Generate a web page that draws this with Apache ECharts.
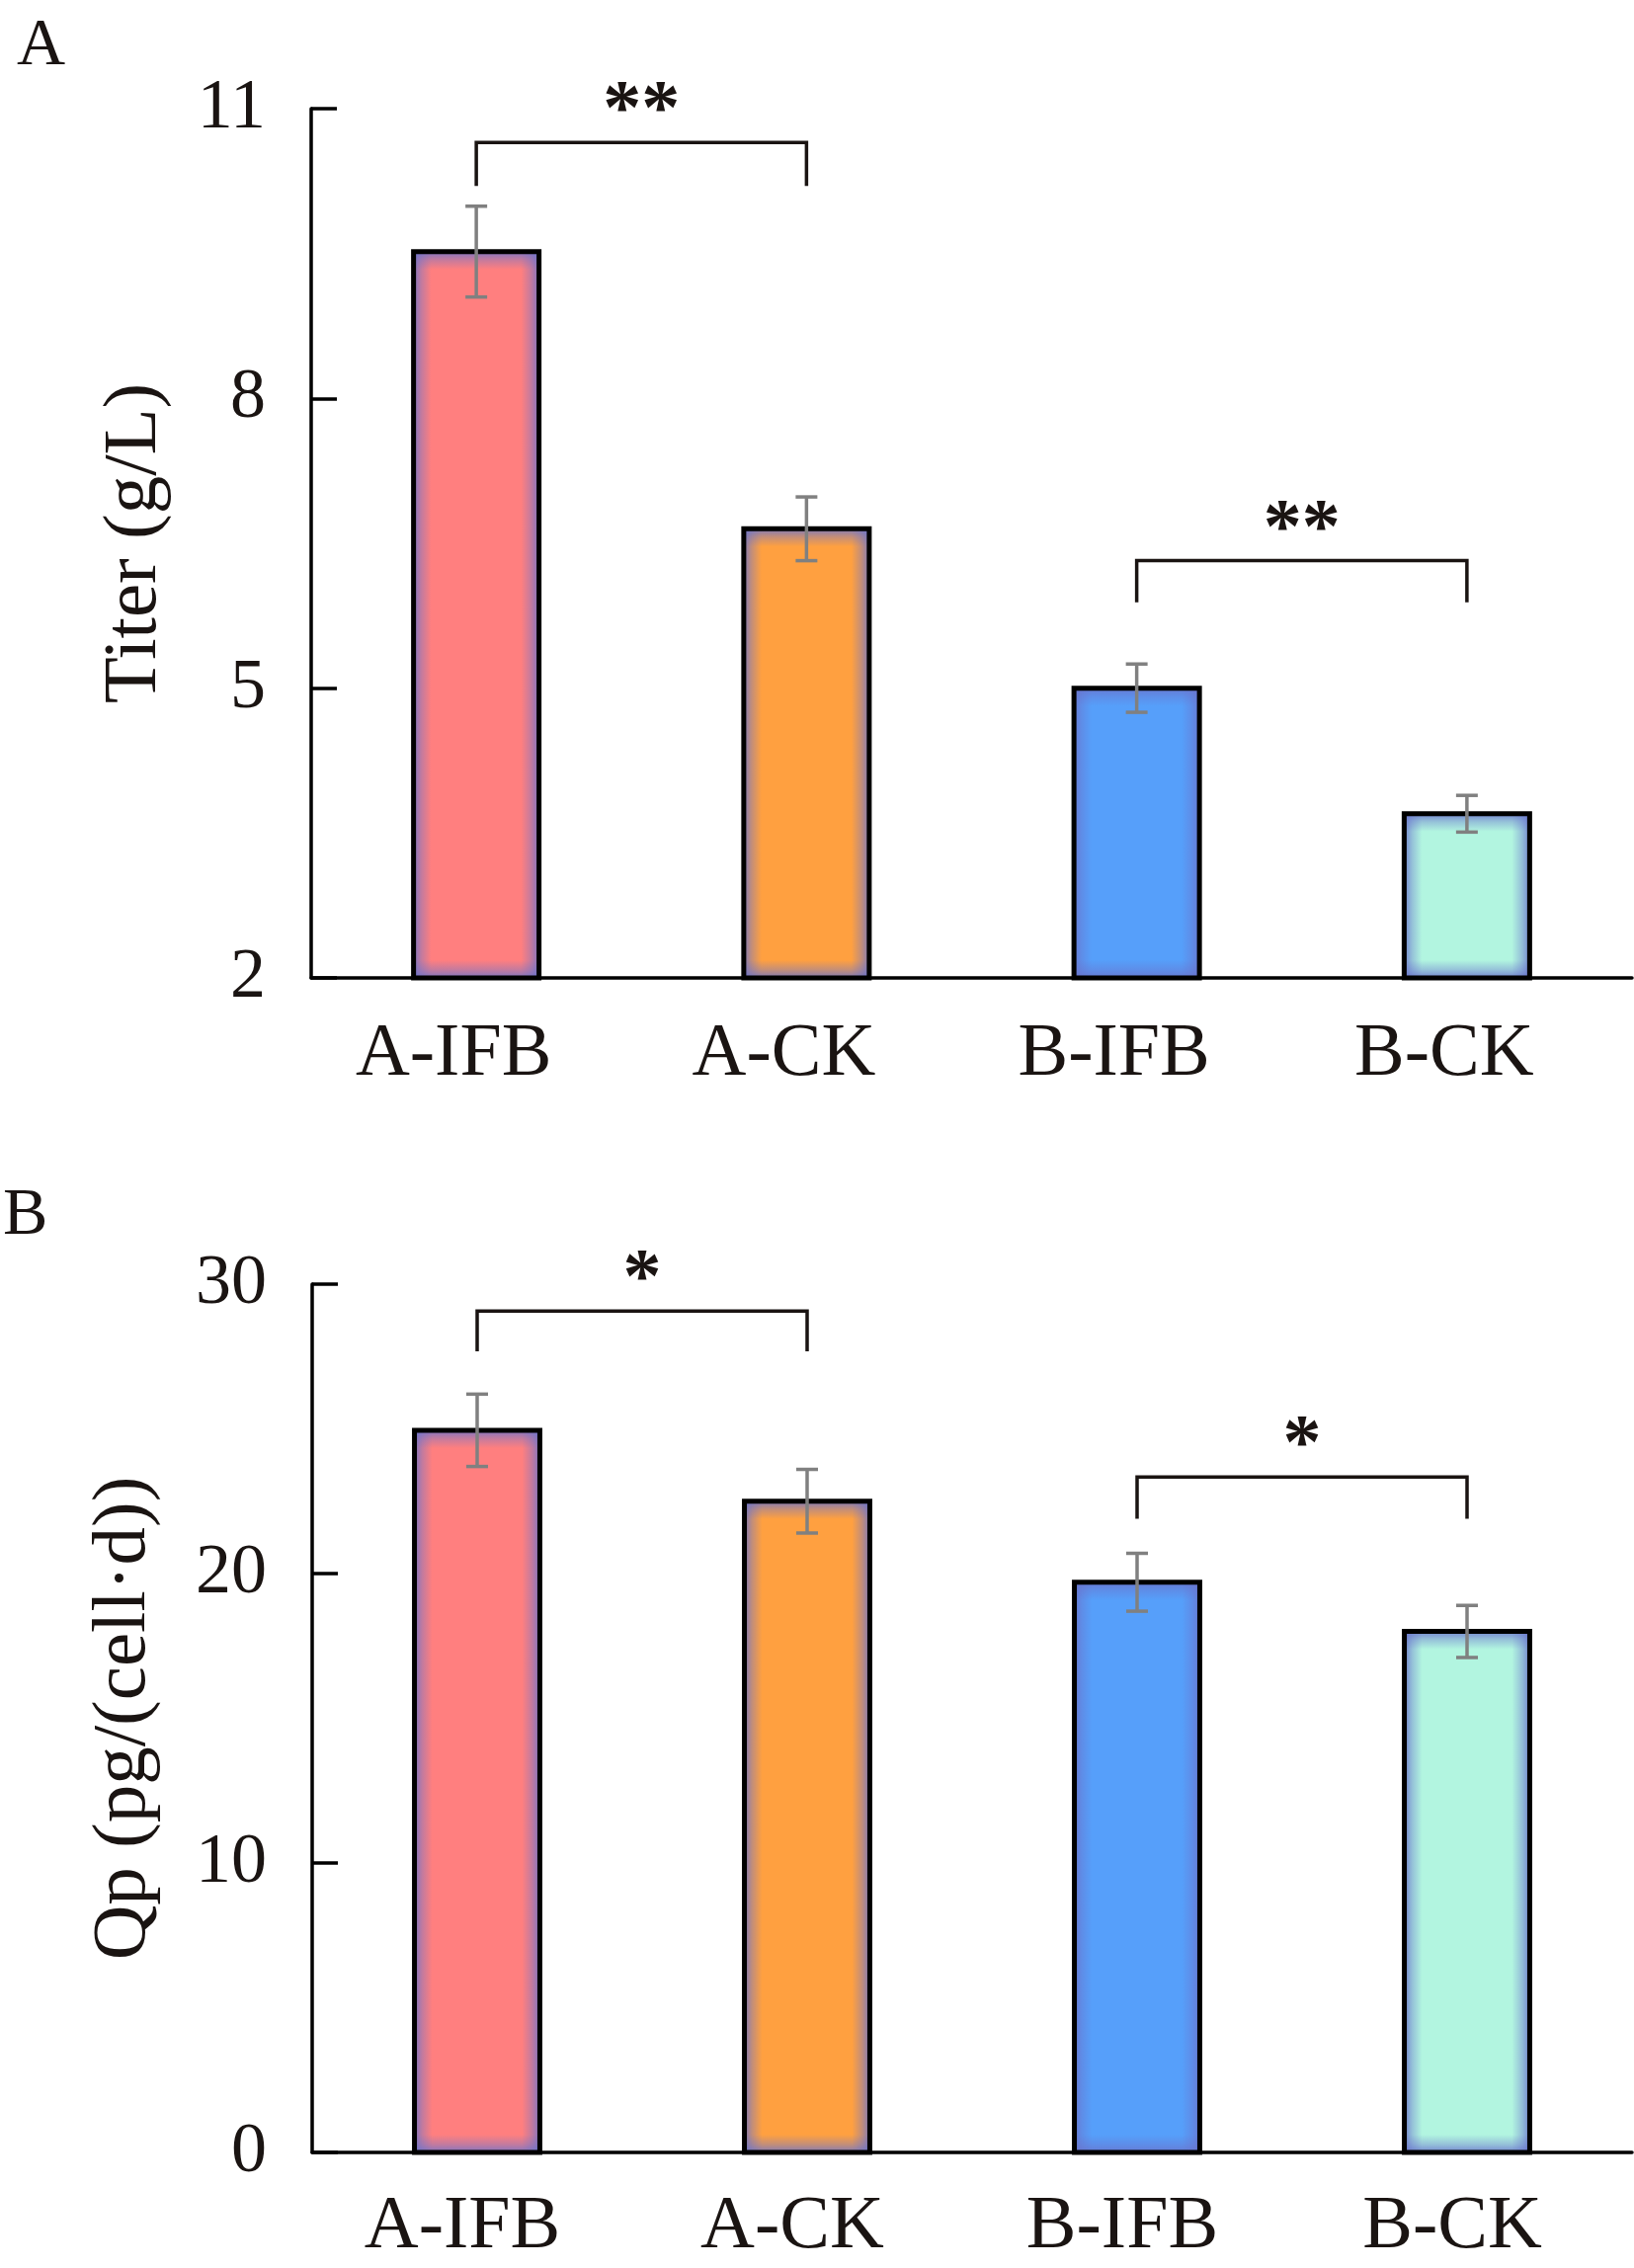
<!DOCTYPE html>
<html>
<head>
<meta charset="utf-8">
<script src="https://cdn.jsdelivr.net/npm/echarts@6/dist/echarts.min.js"></script>
<style>
  html, body { margin: 0; padding: 0; background: #fff; }
  #chart { width: 1654px; height: 2296px; }
</style>
</head>
<body>
<div id="chart"></div>
<script>
// groups on the x axis
const categories = ['A-IFB', 'A-CK', 'B-IFB', 'B-CK'];

// panel A: titer (g/L), mean and error
const titerMean = [9.52, 6.65, 5.0, 3.70];
const titerErr = [0.47, 0.33, 0.25, 0.19];
const titerTicks = [2, 5, 8, 11];

// panel B: Qp (pg/(cell·d)), mean and error
const qpMean = [24.95, 22.5, 19.7, 18.0];
const qpErr = [1.25, 1.1, 1.0, 0.9];
const qpTicks = [0, 10, 20, 30];

// significance brackets: [from, to, mark, bracket level, leg end]
const titerSig = [[0, 1, '**', 10.65, 10.2], [2, 3, '**', 6.32, 5.89]];
const qpSig = [[0, 1, '*', 29.07, 27.68], [2, 3, '*', 23.34, 21.89]];

const barColors = ['#FF7F7F', '#FFA040', '#569FFA', '#B2F5E0'];

const FONT = "'Liberation Serif', 'Times New Roman', serif";
const INK = '#1a1412';

const chart = echarts.init(document.getElementById('chart'), null, { renderer: 'canvas' });

function glowStops(frac) {
  const c = 'rgba(105,115,205,';
  return [
    { offset: 0, color: c + '0.85)' },
    { offset: frac * 0.45, color: c + '0.4)' },
    { offset: frac, color: c + '0)' },
    { offset: 1 - frac, color: c + '0)' },
    { offset: 1 - frac * 0.45, color: c + '0.4)' },
    { offset: 1, color: c + '0.85)' },
  ];
}

function barRenderer(axisMin) {
  return function (params, api) {
    const i = api.value(0);
    const top = api.coord([i, api.value(1)]);
    const base = api.coord([i, axisMin]);
    const w = api.size([1, 0])[0] * 0.38;
    const x = top[0] - w / 2;
    const y = top[1];
    const h = base[1] - top[1];
    const g = 18;
    return {
      type: 'group',
      children: [
        { type: 'rect', shape: { x, y, width: w, height: h }, style: { fill: barColors[i] } },
        {
          type: 'rect', shape: { x, y, width: w, height: h },
          style: { fill: new echarts.graphic.LinearGradient(0, 0, 1, 0, glowStops(g / w)) },
        },
        {
          type: 'rect', shape: { x, y, width: w, height: h },
          style: { fill: new echarts.graphic.LinearGradient(0, 0, 0, 1, glowStops(g / h)) },
        },
        {
          type: 'rect', shape: { x, y, width: w, height: h },
          style: { fill: null, stroke: '#000', lineWidth: 5 },
        },
      ],
    };
  };
}

function errRenderer(params, api) {
  const i = api.value(0);
  const m = api.value(1);
  const e = api.value(2);
  const hi = api.coord([i, m + e]);
  const lo = api.coord([i, m - e]);
  const cap = 11;
  const st = { stroke: '#808080', lineWidth: 3.5 };
  return {
    type: 'group',
    children: [
      { type: 'line', shape: { x1: hi[0], y1: hi[1], x2: lo[0], y2: lo[1] }, style: st },
      { type: 'line', shape: { x1: hi[0] - cap, y1: hi[1], x2: hi[0] + cap, y2: hi[1] }, style: st },
      { type: 'line', shape: { x1: lo[0] - cap, y1: lo[1], x2: lo[0] + cap, y2: lo[1] }, style: st },
    ],
  };
}

function sigRenderer(params, api) {
  const a = api.value(0);
  const b = api.value(1);
  const lvl = api.value(3);
  const leg = api.value(4);
  const p1 = api.coord([a, lvl]);
  const p2 = api.coord([b, lvl]);
  const l1 = api.coord([a, leg]);
  return {
    type: 'group',
    children: [
      {
        type: 'polyline',
        shape: { points: [[p1[0], l1[1]], [p1[0], p1[1]], [p2[0], p2[1]], [p2[0], l1[1]]] },
        style: { fill: null, stroke: INK, lineWidth: 3.5 },
      },
      {
        type: 'text',
        style: {
          x: (p1[0] + p2[0]) / 2, y: p1[1] - 30,
          text: api.value(2), align: 'center', verticalAlign: 'middle',
          font: 'bold 78px ' + FONT, fill: INK,
        },
      },
    ],
  };
}

const axisLine = { lineStyle: { color: '#000', width: 3.5 } };

function yAxis(gridIndex, min, max, ticks, name, gap) {
  return {
    type: 'value', gridIndex, min, max,
    name, nameLocation: 'middle', nameGap: gap,
    nameTextStyle: { fontFamily: FONT, fontSize: 77, color: INK },
    axisLine: { show: true, ...axisLine },
    axisTick: { show: true, inside: true, length: 26, customValues: ticks, lineStyle: { color: '#000', width: 3.5 } },
    axisLabel: { customValues: ticks, fontFamily: FONT, fontSize: 72, color: INK, margin: 46 },
    splitLine: { show: false },
  };
}

function xAxis(gridIndex, margin, shift) {
  return {
    type: 'category', gridIndex, data: categories,
    axisLine,
    axisTick: { show: false },
    axisLabel: { fontFamily: FONT, fontSize: 76, color: INK, margin, padding: [0, shift, 0, 0] },
  };
}

chart.setOption({
  backgroundColor: '#fff',
  animation: false,
  title: [
    { text: 'A', left: 12, top: 8, textStyle: { fontFamily: FONT, fontSize: 68, fontWeight: 'normal', color: INK } },
    { text: 'B', left: -2, top: 1192, textStyle: { fontFamily: FONT, fontSize: 68, fontWeight: 'normal', color: INK } },
  ],
  grid: [
    { left: 315, top: 110, width: 1337, height: 880 },
    { left: 316, top: 1300, width: 1336, height: 879 },
  ],
  xAxis: [xAxis(0, 40, 46), xAxis(1, 38, 30)],
  yAxis: [
    yAxis(0, 2, 11, titerTicks, 'Titer (g/L)', 140),
    yAxis(1, 0, 30, qpTicks, 'Qp (pg/(cell·d))', 152),
  ],
  series: [
    {
      type: 'custom', xAxisIndex: 0, yAxisIndex: 0, renderItem: barRenderer(2),
      data: titerMean.map((v, i) => [i, v]),
    },
    {
      type: 'custom', xAxisIndex: 0, yAxisIndex: 0, renderItem: errRenderer,
      data: titerMean.map((v, i) => [i, v, titerErr[i]]),
    },
    {
      type: 'custom', xAxisIndex: 0, yAxisIndex: 0, renderItem: sigRenderer,
      dimensions: ['a', 'b', { name: 'mark', type: 'ordinal' }, 'lvl', 'leg'],
      encode: { x: [0, 1], y: [3, 4] },
      data: titerSig,
    },
    {
      type: 'custom', xAxisIndex: 1, yAxisIndex: 1, renderItem: barRenderer(0),
      data: qpMean.map((v, i) => [i, v]),
    },
    {
      type: 'custom', xAxisIndex: 1, yAxisIndex: 1, renderItem: errRenderer,
      data: qpMean.map((v, i) => [i, v, qpErr[i]]),
    },
    {
      type: 'custom', xAxisIndex: 1, yAxisIndex: 1, renderItem: sigRenderer,
      dimensions: ['a', 'b', { name: 'mark', type: 'ordinal' }, 'lvl', 'leg'],
      encode: { x: [0, 1], y: [3, 4] },
      data: qpSig,
    },
  ],
});
</script>
</body>
</html>
